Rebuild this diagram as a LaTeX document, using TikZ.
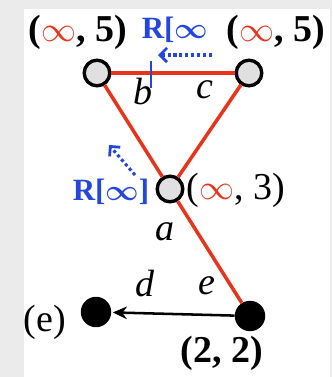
\documentclass[tikz,border=0pt]{standalone}
\usepackage{fontspec}
\setmainfont{Liberation Serif}
\usetikzlibrary{arrows.meta}
\definecolor{edgered}{RGB}{232,52,28}
\definecolor{markblue}{RGB}{35,70,225}
\definecolor{nodegray}{RGB}{224,224,224}
\definecolor{bggray}{RGB}{235,235,235}
\newcommand{\redinf}{\textcolor{edgered}{$\infty$}}
\tikzset{
  opennode/.style={circle, draw=black, fill=nodegray, line width=2.4pt, minimum size=0.64cm, inner sep=0pt},
  fullnode/.style={circle, fill=black, minimum size=0.76cm, inner sep=0pt},
  redge/.style={edgered, line width=2.5pt},
  txtlabel/.style={font=\fontsize{27}{31}\selectfont, inner sep=0pt},
  bluemark/.style={markblue, font=\fontsize{22}{26}\selectfont\bfseries\boldmath, inner sep=0pt},
  dotarrow/.style={markblue, line width=2.2pt, dotted, -{Straight Barb[length=5pt,width=10pt,line width=2pt]}}
}
\begin{document}
\begin{tikzpicture}[x=0.025cm,y=-0.025cm]
\fill[bggray] (0,0) rectangle (332,377);
\fill[white] (24,9) rectangle (330,377);
\useasboundingbox (0,0) rectangle (332,377);
% vertices
\node[opennode] (u) at (97,73) {};
\node[opennode] (v) at (249,73) {};
\node[opennode] (w) at (170,189) {};
\node[fullnode] (x) at (250,316) {};
\node[fullnode] (y) at (96,312) {};
% edges
\draw[redge] (u) -- (v);
\draw[redge] (u) -- (w);
\draw[redge] (v) -- (w);
\draw[redge] (w) -- (x);
\draw[-{Stealth[length=10pt,width=9pt]}, line width=1.8pt, shorten >=1pt] (x) -- (y);
% edge labels
\node[txtlabel] (lb) at (143,92) {\textit{b}};
\node[txtlabel] (lc) at (205,90) {\textit{c}};
\node[txtlabel] (la) at (165,232) {\textit{a}};
\node[txtlabel] (ld) at (145,284) {\textit{d}};
\node[txtlabel] (le) at (207,286) {\textit{e}};
% vertex labels
\node[txtlabel] (tu) at (78,32) {\bfseries(\redinf, 5)};
\node[txtlabel] (tv) at (276,32) {\bfseries(\redinf, 5)};
\node[txtlabel] (tw) at (236,190) {(\redinf, 3)};
\node[txtlabel] (tx) at (222,353) {\bfseries(2, 2)};
\node[txtlabel] (tcap) at (45,322) {(e)};
% blue marks
\node[bluemark] (r1) at (175,30) {R[$\infty$};
\node[bluemark] (r2) at (111,192) {R[$\infty$]};
\coordinate (cut1) at (151,61);
\coordinate (cut2) at (151,88);
\draw[markblue, line width=1.8pt] (cut1) -- (cut2);
\coordinate (p1) at (212,55);
\coordinate (p2) at (158,55);
\draw[dotarrow] (p1) -- (p2);
\coordinate (q1) at (135,175);
\coordinate (q2) at (109,145);
\draw[dotarrow] (q1) -- (q2);
\end{tikzpicture}
\end{document}
